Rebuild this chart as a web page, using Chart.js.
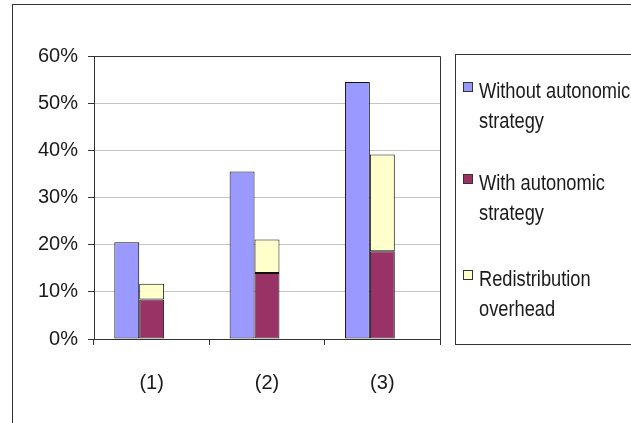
<!DOCTYPE html>
<html>
<head>
<meta charset="utf-8">
<script src="https://cdn.jsdelivr.net/npm/chart.js@4"></script>
<style>
  body { margin: 0; background: #fff; overflow: hidden; }
  #wrap { position: relative; width: 631px; height: 423px; }
  #frame { position: absolute; left: 12px; top: 4px; right: -5px; bottom: -5px;
           border-left: 1px solid #333; border-top: 1px solid #333; }
  #legend { position: absolute; left: 455px; top: 54px; width: 200px; height: 289px;
            border: 1px solid #333; font-family: 'Liberation Sans', Arial, sans-serif;
            font-size: 22px; color: #1a1a1a; line-height: 30px; }
  .item { position: absolute; left: 7px; }
  .sw { position: absolute; left: 0; top: 6px; width: 8px; height: 8px; border: 1px solid #333; }
  .txt { position: absolute; left: 16px; top: 0; white-space: nowrap;
         transform: scaleX(0.83); transform-origin: 0 0; }
</style>
</head>
<body>
<div id="wrap">
  <div id="frame"></div>
  <canvas id="c"></canvas>
  <div id="legend"></div>
</div>
<script>
const categories = ['(1)', '(2)', '(3)'];
const seriesNames = [['Without autonomic', 'strategy'], ['With autonomic', 'strategy'], ['Redistribution', 'overhead']];
const withoutVals = [20.5, 35.5, 54.5];
const withVals = [8.4, 14.0, 18.6];
const overheadVals = [3.3, 7.1, 20.5];
const yTicks = [0, 10, 20, 30, 40, 50, 60];
const colors = ['#9999FF', '#993366', '#FFFFCC'];

const plotBorder = {
    id: 'plotBorder',
    afterDraw(chart) {
        const a = chart.chartArea, g = chart.ctx;
        g.save();
        g.strokeStyle = '#333';
        g.lineWidth = 1;
        g.beginPath();
        g.moveTo(a.left, a.top + 0.5);
        g.lineTo(a.right + 0.5, a.top + 0.5);
        g.lineTo(a.right + 0.5, a.bottom);
        g.stroke();
        g.restore();
    }
};

const font = { family: "'Liberation Sans', Arial, sans-serif", size: 20 };

new Chart(document.getElementById('c'), {
    type: 'bar',
    data: {
        labels: categories,
        datasets: [
            { label: seriesNames[0].join(' '), data: withoutVals, backgroundColor: colors[0], stack: 's1' },
            { label: seriesNames[1].join(' '), data: withVals, backgroundColor: colors[1], stack: 's2' },
            { label: seriesNames[2].join(' '), data: overheadVals, backgroundColor: colors[2], stack: 's2' },
            { label: '', data: [null, null, null], stack: 's3' }  // empty third slot, like the excel cluster
        ]
    },
    options: {
        responsive: true,
        maintainAspectRatio: false,
        animation: false,
        layout: { padding: { left: 0, top: 56, right: 191, bottom: 24 } },
        datasets: {
            bar: {
                borderColor: '#111',
                borderWidth: 1,
                borderSkipped: false,
                categoryPercentage: 0.648,
                barPercentage: 1
            }
        },
        plugins: { legend: { display: false }, tooltip: { enabled: false } },
        scales: {
            x: {
                stacked: true,
                border: { color: '#333' },
                grid: { display: true, drawOnChartArea: false, tickLength: 6, tickColor: '#333', offset: true },
                ticks: { font, color: '#1a1a1a', padding: 26, maxRotation: 0 },
                afterFit: s => { s.height = 60; }
            },
            y: {
                stacked: true,
                min: 0, max: 60,
                border: { color: '#333' },
                grid: { color: '#c4c4c4', tickLength: 6, tickColor: '#333' },
                afterBuildTicks: s => { s.ticks = yTicks.map(v => ({ value: v })); },
                ticks: { font, color: '#1a1a1a', padding: 10, callback: v => v + '%' },
                afterFit: s => { s.width = 94; }
            }
        }
    },
    plugins: [plotBorder]
});

// legend box
const lg = document.getElementById('legend');
const tops = [21, 113, 209];
seriesNames.forEach((lines, i) => {
    const it = document.createElement('div');
    it.className = 'item';
    it.style.top = tops[i] + 'px';
    it.innerHTML = '<div class="sw" style="background:' + colors[i] + '"></div>' +
        '<div class="txt">' + lines.join('<br>') + '</div>';
    lg.appendChild(it);
});
</script>
</body>
</html>
